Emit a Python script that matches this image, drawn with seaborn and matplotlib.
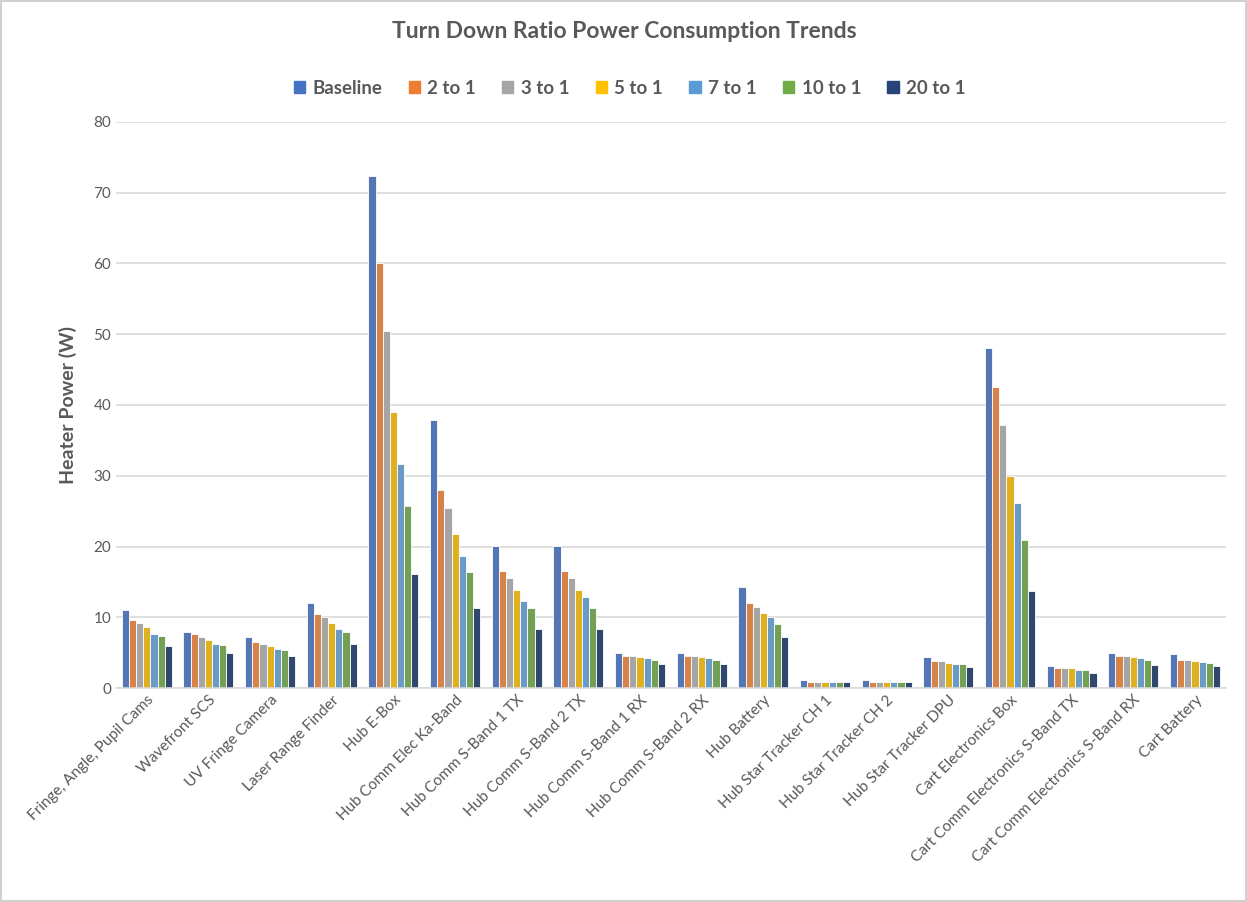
import pandas as pd
import matplotlib.pyplot as plt
import seaborn as sns

# Categories and series
components = [
    "Fringe, Angle, Pupil Cams", "Wavefront SCS", "UV Fringe Camera", "Laser Range Finder",
    "Hub E-Box", "Hub Comm Elec Ka-Band", "Hub Comm S-Band 1 TX", "Hub Comm S-Band 2 TX",
    "Hub Comm S-Band 1 RX", "Hub Comm S-Band 2 RX", "Hub Battery", "Hub Star Tracker CH 1",
    "Hub Star Tracker CH 2", "Hub Star Tracker DPU", "Cart Electronics Box",
    "Cart Comm Electronics S-Band TX", "Cart Comm Electronics S-Band RX", "Cart Battery",
]
ratios = ["Baseline", "2 to 1", "3 to 1", "5 to 1", "7 to 1", "10 to 1", "20 to 1"]

baseline = [11.0, 8.0, 7.3, 12.0, 72.3, 37.9, 20.1, 20.1, 5.0, 5.0, 14.3, 1.2, 1.2, 4.4, 48.0, 3.2, 5.0, 4.8]
r2 = [9.6, 7.6, 6.5, 10.5, 60.0, 28.0, 16.5, 16.5, 4.6, 4.6, 12.0, 0.9, 0.9, 3.8, 42.6, 2.8, 4.6, 4.0]
r3 = [9.2, 7.3, 6.3, 10.0, 50.4, 25.5, 15.5, 15.5, 4.5, 4.5, 11.5, 0.9, 0.9, 3.8, 37.2, 2.8, 4.5, 4.0]
r5 = [8.6, 6.8, 5.9, 9.2, 39.0, 21.8, 13.9, 13.9, 4.4, 4.4, 10.6, 0.9, 0.9, 3.6, 30.0, 2.8, 4.4, 3.8]
r7 = [7.7, 6.2, 5.5, 8.4, 31.6, 18.7, 12.3, 12.9, 4.2, 4.2, 10.0, 0.9, 0.9, 3.4, 26.2, 2.6, 4.2, 3.7]
r10 = [7.4, 6.1, 5.4, 7.9, 25.8, 16.4, 11.3, 11.3, 4.0, 4.0, 9.1, 0.9, 0.9, 3.4, 21.0, 2.6, 4.0, 3.6]
r20 = [5.9, 5.0, 4.5, 6.2, 16.2, 11.4, 8.4, 8.4, 3.4, 3.4, 7.2, 0.9, 0.9, 3.0, 13.7, 2.2, 3.3, 3.2]

colors = ["#4472C4", "#ED7D31", "#A5A5A5", "#FFC000", "#5B9BD5", "#70AD47", "#264478"]

series = [baseline, r2, r3, r5, r7, r10, r20]
rows = []
for name, vals in zip(ratios, series):
    for comp, v in zip(components, vals):
        rows.append({"component": comp, "ratio": name, "power": v})
df = pd.DataFrame(rows)

sns.set_style("white")
plt.rcParams["font.family"] = ["Lato", "DejaVu Sans"]

fig = plt.figure(figsize=(12.47, 9.02), dpi=100)
fig.patch.set_edgecolor("#D0D0D0")
fig.patch.set_linewidth(1.5)
ax = fig.add_axes([0.093, 0.237, 0.89, 0.628])

sns.barplot(data=df, x="component", y="power", hue="ratio", order=components,
            hue_order=ratios, palette=colors, width=0.81, edgecolor="white",
            linewidth=0.6, ax=ax, legend=False)

ax.set_ylim(0, 80)
ax.set_yticks(range(0, 81, 10))
ax.set_xlim(-0.5, len(components) - 0.5)
ax.yaxis.grid(True, color="#D9D9D9", linewidth=1.2)
ax.set_axisbelow(True)
for side in ["top", "left", "right"]:
    ax.spines[side].set_visible(False)
ax.spines["bottom"].set_color("#D9D9D9")
ax.spines["bottom"].set_linewidth(1.2)
ax.tick_params(axis="both", length=0, colors="#595959", labelsize=11)
ax.set_xticks(range(len(components)))
ax.set_xticklabels(components, rotation=45, ha="right", rotation_mode="anchor")
ax.set_xlabel("")
ax.set_ylabel("Heater Power (W)", fontsize=14, fontweight="bold", color="#595959", labelpad=12)

fig.suptitle("Turn Down Ratio Power Consumption Trends", x=0.501, y=0.977,
             fontsize=16.5, fontweight="bold", color="#595959")

handles = [plt.Rectangle((0, 0), 1, 1, color=c) for c in colors]
leg = fig.legend(handles, ratios, loc="center", bbox_to_anchor=(0.505, 0.902), ncol=7,
                 frameon=False, fontsize=13.5, handlelength=0.6, handleheight=0.6,
                 handletextpad=0.4, columnspacing=1.4)
for t in leg.get_texts():
    t.set_color("#595959")
    t.set_fontweight("bold")

fig.savefig("out.png", dpi=100)
